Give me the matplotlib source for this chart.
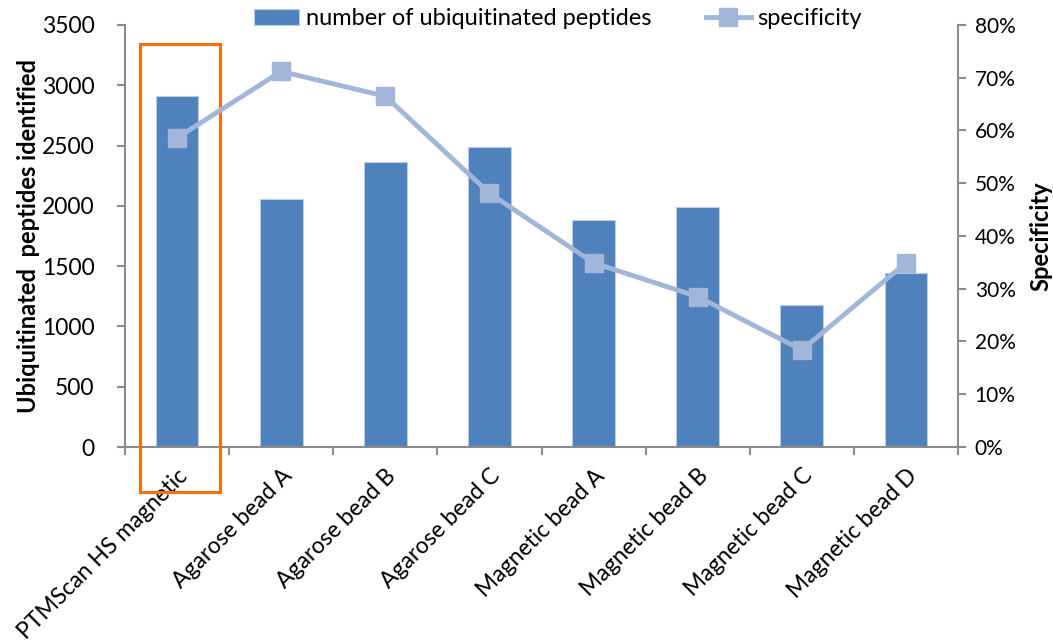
import matplotlib
matplotlib.use("Agg")
import matplotlib.pyplot as plt
from matplotlib.patches import Rectangle
from matplotlib.ticker import FuncFormatter, MultipleLocator

categories = ["PTMScan HS magnetic", "Agarose bead A", "Agarose bead B", "Agarose bead C",
              "Magnetic bead A", "Magnetic bead B", "Magnetic bead C", "Magnetic bead D"]
peptides = [2910, 2060, 2360, 2490, 1885, 1990, 1175, 1440]
specificity = [0.586, 0.712, 0.665, 0.481, 0.349, 0.285, 0.184, 0.349]

plt.rcParams['font.family'] = ['Lato', 'DejaVu Sans']
BAR = "#4F81BD"
LINE = "#A1B6D9"
GRAY = "#8C8C8C"

fig = plt.figure(figsize=(10.53, 6.44), dpi=100)
ax = fig.add_axes([0.1187, 0.3059, 0.7911, 0.6553])
ax2 = ax.twinx()

x = list(range(len(categories)))
bars = ax.bar(x, peptides, width=0.41, color=BAR, edgecolor="#B9CDE5", linewidth=0.8,
              label="number of ubiquitinated peptides", zorder=2)
ln, = ax2.plot(x, specificity, color=LINE, lw=3.5, marker="s", markersize=13,
               markerfacecolor=LINE, markeredgecolor=LINE, label="specificity", zorder=3)

ax.set_xlim(-0.5, len(categories) - 0.5)
ax.set_ylim(0, 3500)
ax2.set_ylim(0, 0.8)
ax.yaxis.set_major_locator(MultipleLocator(500))
ax2.yaxis.set_major_locator(MultipleLocator(0.1))
ax2.yaxis.set_major_formatter(FuncFormatter(lambda v, p: f"{v*100:.0f}%"))

for a in (ax, ax2):
    for s in a.spines.values():
        s.set_visible(False)
ax.spines['left'].set_visible(True)
ax.spines['bottom'].set_visible(True)
ax2.spines['right'].set_visible(True)
for s in (ax.spines['left'], ax.spines['bottom'], ax2.spines['right']):
    s.set_color(GRAY)
    s.set_linewidth(1.5)

ax.set_xticks([i - 0.5 for i in range(len(categories) + 1)], minor=False)
ax.set_xticklabels([])
ax.set_xticks(x, minor=True)
ax.set_xticklabels(categories, minor=True, rotation=45, ha="right", rotation_mode="anchor", fontsize=16.5)
ax.tick_params(axis="x", which="major", length=6, width=1.5, color=GRAY, direction="out")
ax.tick_params(axis="x", which="minor", length=0, pad=13)
ax.tick_params(axis="y", length=6, width=1.5, color=GRAY, labelsize=16.5, pad=16)
ax2.tick_params(axis="y", length=6, width=1.5, color=GRAY, labelsize=15, pad=6)

ax.set_ylabel("Ubiquitinated  peptides identified", fontsize=17, fontweight="bold")
ax.yaxis.set_label_coords(-0.102, 0.5)
ax2.set_ylabel("Specificity", fontsize=17, fontweight="bold", labelpad=10)

# highlight box
rect = Rectangle((-0.355, -373), 0.768, 3715, fill=False, edgecolor="#FF6A13", lw=2.2,
                 clip_on=False, zorder=5)
ax.add_patch(rect)

fig.legend(handles=[bars, ln], labels=["number of ubiquitinated peptides", "specificity"],
           loc="upper center", bbox_to_anchor=(0.53, 1.02), ncol=2, frameon=False,
           fontsize=17, handlelength=1.9, columnspacing=2.3, handletextpad=0.3)

fig.savefig("out.png", dpi=100)
